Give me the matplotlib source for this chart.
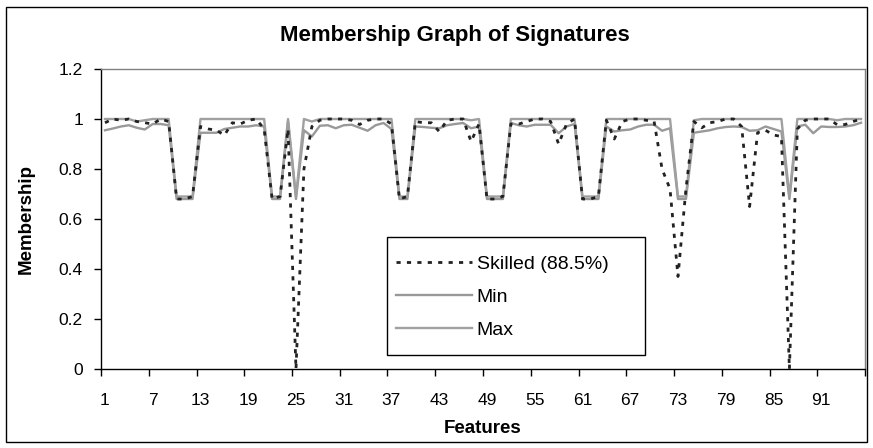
import matplotlib
matplotlib.use("Agg")
import matplotlib.pyplot as plt
from matplotlib.patches import Rectangle

plt.rcParams['font.family'] = ['Liberation Sans', 'DejaVu Sans']
plt.rcParams['lines.scale_dashes'] = False

features = list(range(1, 97))

skilled = [0.985, 1.0, 0.995, 1.0, 0.99, 0.985, 0.98, 1.0, 0.99, 0.68,
           0.68, 0.69, 0.97, 0.96, 0.955, 0.935, 0.985, 0.98, 0.995, 1.0,
           0.96, 0.68, 0.69, 0.96, 0.0, 0.80, 0.97, 0.995, 1.0, 1.0,
           1.0, 0.995, 0.978, 0.995, 1.0, 1.0, 0.98, 0.68, 0.69, 0.99,
           0.985, 0.985, 0.95, 0.995, 1.0, 1.0, 0.91, 0.98, 0.68, 0.68,
           0.69, 0.98, 0.98, 0.99, 1.0, 1.0, 0.99, 0.90, 0.98, 1.0,
           0.68, 0.68, 0.69, 0.995, 0.92, 0.99, 1.0, 1.0, 0.995, 0.99,
           0.80, 0.72, 0.37, 0.72, 0.99, 0.965, 0.985, 0.99, 1.0, 1.0,
           0.97, 0.65, 0.945, 0.955, 0.936, 0.93, 0.0, 0.96, 0.995, 1.0,
           1.0, 1.0, 0.977, 0.978, 0.99, 1.0]

min_vals = [0.955, 0.962, 0.97, 0.975, 0.965, 0.958, 0.98, 0.98, 0.975, 0.68,
            0.68, 0.68, 0.945, 0.945, 0.945, 0.96, 0.965, 0.97, 0.97, 0.975,
            0.97, 0.68, 0.68, 0.99, 0.68, 0.955, 0.93, 0.973, 0.975, 0.963,
            0.975, 0.977, 0.965, 0.953, 0.975, 0.984, 0.96, 0.68, 0.68, 0.97,
            0.968, 0.965, 0.963, 0.975, 0.98, 0.984, 0.963, 0.97, 0.68, 0.68,
            0.68, 0.984, 0.975, 0.97, 0.977, 0.977, 0.977, 0.943, 0.97, 0.98,
            0.68, 0.68, 0.68, 0.97, 0.95, 0.955, 0.958, 0.97, 0.977, 0.977,
            0.953, 0.963, 0.68, 0.68, 0.945, 0.95, 0.955, 0.963, 0.968, 0.97,
            0.968, 0.953, 0.955, 0.97, 0.96, 0.95, 0.68, 0.97, 0.977, 0.943,
            0.97, 0.968, 0.968, 0.97, 0.975, 0.985]

max_vals = [1.0, 1.0, 1.0, 1.0, 0.99, 0.995, 1.0, 1.0, 1.0, 0.69,
            0.69, 0.69, 1.0, 1.0, 1.0, 1.0, 1.0, 1.0, 1.0, 1.0,
            1.0, 0.69, 0.69, 1.0, 0.69, 1.0, 0.99, 1.0, 1.0, 1.0,
            1.0, 1.0, 1.0, 1.0, 1.0, 1.0, 1.0, 0.69, 0.69, 1.0,
            1.0, 1.0, 1.0, 1.0, 1.0, 1.0, 0.995, 1.0, 0.69, 0.69,
            0.69, 1.0, 1.0, 1.0, 1.0, 1.0, 1.0, 1.0, 1.0, 1.0,
            0.69, 0.69, 0.69, 1.0, 1.0, 1.0, 1.0, 1.0, 1.0, 1.0,
            1.0, 1.0, 0.69, 0.69, 0.995, 1.0, 1.0, 1.0, 1.0, 1.0,
            1.0, 1.0, 1.0, 1.0, 1.0, 1.0, 0.69, 1.0, 1.0, 1.0,
            1.0, 1.0, 0.995, 1.0, 1.0, 1.0]

xtick_labels = list(range(1, 92, 6))
yticks = [0, 0.2, 0.4, 0.6, 0.8, 1.0, 1.2]
ytick_labels = ['0', '0.2', '0.4', '0.6', '0.8', '1', '1.2']

W, H = 873, 448
fig = plt.figure(figsize=(W / 100, H / 100), dpi=100)
left, right, top, bottom = 101, 865, 69, 369
ax = fig.add_axes([left / W, 1 - bottom / H, (right - left) / W, (bottom - top) / H])

ax.plot(features, skilled, color='#222222', lw=2.0, dashes=(3.0, 4.5),
        label='Skilled (88.5%)', zorder=3)
ax.plot(features, min_vals, color='#999999', lw=1.7, label='Min', zorder=2)
ax.plot(features, max_vals, color='#a0a0a0', lw=1.7, label='Max', zorder=2)

ax.set_xlim(0.5, 96.5)
ax.set_ylim(0, 1.2)
ax.set_yticks(yticks)
ax.set_yticklabels(ytick_labels)
ax.set_xticks(xtick_labels)
ax.set_xticklabels([str(v) for v in xtick_labels])
ax.set_xticks([0.5 + 6 * k for k in range(17)], minor=True)
ax.tick_params(axis='x', which='major', length=0, pad=17, labelsize=12.5)
ax.tick_params(axis='x', which='minor', length=5, width=1, color='black', direction='out')
ax.tick_params(axis='y', which='major', length=5, width=1, pad=8, labelsize=12.5, direction='out')

for s in ['left', 'bottom']:
    ax.spines[s].set_color('black')
    ax.spines[s].set_linewidth(1)
for s in ['top', 'right']:
    ax.spines[s].set_color('#808080')
    ax.spines[s].set_linewidth(1)

fig.text(455 / W, 1 - 35 / H, 'Membership Graph of Signatures', ha='center', va='center',
         fontsize=16, fontweight='bold')
fig.text(483 / W, 1 - 428 / H, 'Features', ha='center', va='center',
         fontsize=13.5, fontweight='bold')
fig.text(26 / W, 1 - 219 / H, 'Membership', ha='center', va='center', rotation=90,
         fontsize=13.5, fontweight='bold')

# legend frame (Excel style box)
frame = Rectangle((387 / W, 1 - 355 / H), (645 - 387) / W, (355 - 237) / H,
                  transform=fig.transFigure, facecolor='white', edgecolor='black',
                  lw=1, zorder=4)
ax.add_artist(frame)
frame.set_clip_on(False)

leg = ax.legend(loc='upper left', bbox_to_anchor=(396 / W, 1 - 255 / H),
                bbox_transform=fig.transFigure, fontsize=14, frameon=False,
                handlelength=3.9, handletextpad=0.25, labelspacing=0.8,
                borderpad=0, borderaxespad=0)
leg.set_zorder(5)

fig.patches.append(Rectangle((6 / W, 1 - 442 / H), (867 - 6) / W, (442 - 7) / H,
                             transform=fig.transFigure, fill=False,
                             edgecolor='black', lw=1))

fig.savefig('out.png', dpi=100)
